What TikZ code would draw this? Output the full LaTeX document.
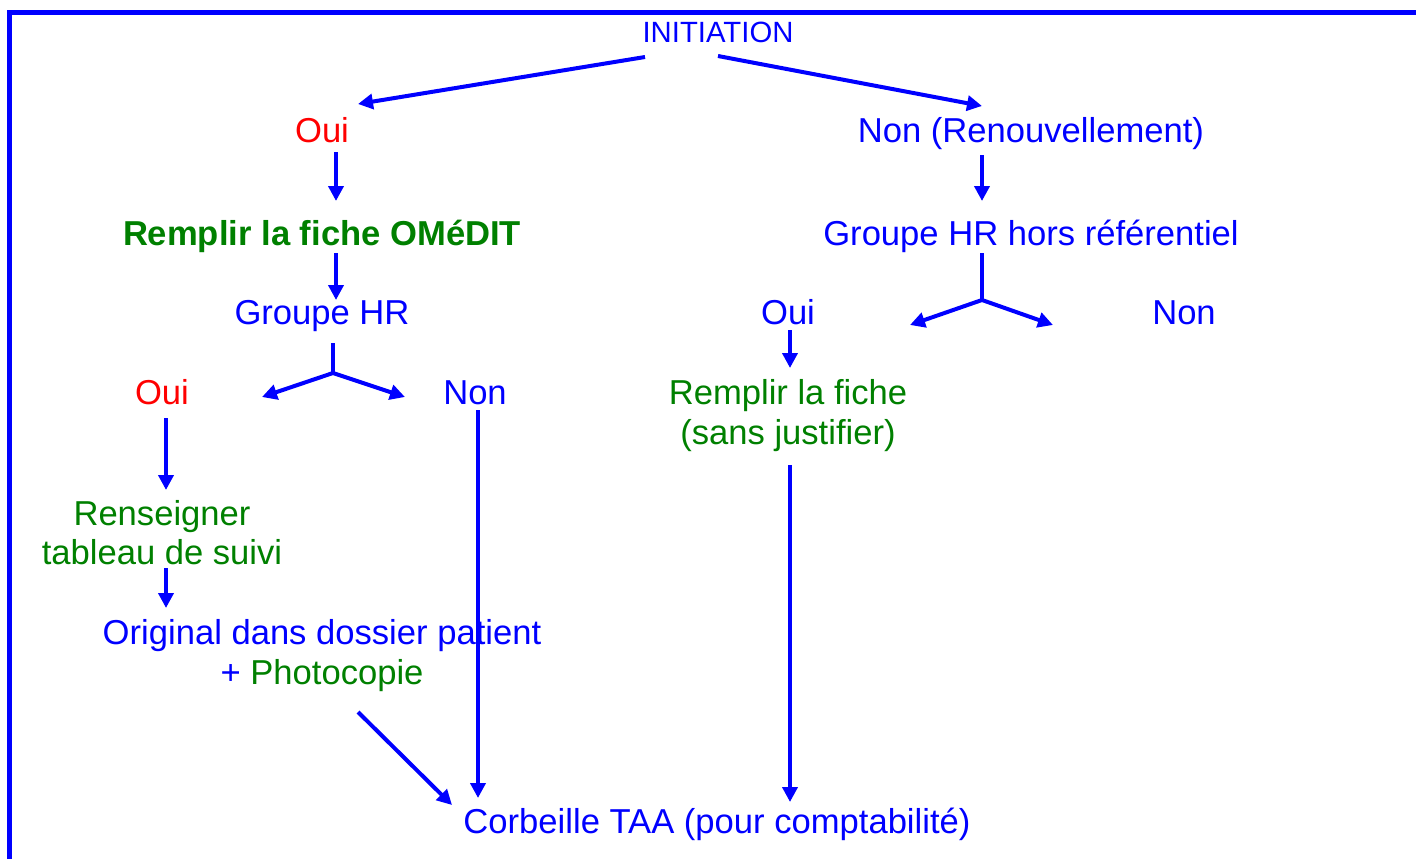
\documentclass[tikz,border=0pt]{standalone}
\usepackage{fontspec}
\setmainfont{Liberation Sans}
\usetikzlibrary{arrows.meta}
\definecolor{pblue}{RGB}{0,0,255}
\definecolor{pred}{RGB}{255,0,0}
\definecolor{pgreen}{RGB}{0,128,0}
\begin{document}
\begin{tikzpicture}[x=1pt,y=-1pt,
  lbl/.style={anchor=base,inner sep=0pt,font=\fontsize{34.6}{40}\selectfont,text=pblue},
  redlbl/.style={lbl,text=pred},
  greenlbl/.style={lbl,text=pgreen},
  arr/.style={draw=pblue,line width=4pt,-{Triangle[length=15pt,width=15pt]}},
  ln/.style={draw=pblue,line width=4pt},
  frame/.style={draw=pblue,line width=5pt}]
\useasboundingbox (0,0) rectangle (1416,859);
\draw[frame] (9.5,859) -- (9.5,12.5) -- (1416,12.5);

\node[lbl,font=\fontsize{29.3}{34}\selectfont] (init) at (718,43) {INITIATION};
\node[redlbl] (oui1) at (322,142) {Oui};
\node[lbl] (nonr) at (1031,142) {Non (Renouvellement)};
\node[greenlbl,font=\fontsize{34.6}{40}\selectfont\bfseries] (fiche) at (322,245) {Remplir la fiche OMéDIT};
\node[lbl] (ghr) at (322,324) {Groupe HR};
\node[lbl] (ghrh) at (1031,245) {Groupe HR hors référentiel};
\node[lbl] (oui3) at (788,324) {Oui};
\node[lbl] (non3) at (1184,324) {Non};
\node[redlbl] (oui2) at (162,404) {Oui};
\node[lbl] (non2) at (475,404) {Non};
\node[greenlbl] (rf1) at (788,404) {Remplir la fiche};
\node[greenlbl] (rf2) at (788,444) {(sans justifier)};
\node[greenlbl] (ren1) at (162,525) {Renseigner};
\node[greenlbl] (ren2) at (162,564) {tableau de suivi};
\node[lbl] (orig1) at (322,644) {Original dans dossier patient};
\node[lbl] (orig2) at (322,684) {+ \textcolor{pgreen}{Photocopie}};
\node[lbl] (corb) at (717,833) {Corbeille TAA (pour comptabilité)};

\draw[arr] ([shift={(-73,14)}]init.base) -- ([shift={(36,-38)}]oui1.base);
\draw[arr] ([shift={(0,13)}]init.base) -- ([shift={(-49,-36)}]nonr.base);
\draw[arr] ([shift={(14,10)}]oui1.base) -- ([shift={(14,-44)}]fiche.base);
\draw[arr] ([shift={(14,8)}]fiche.base) -- ([shift={(14,-24)}]ghr.base);
\draw[ln] ([shift={(11,19)}]ghr.base) -- ([shift={(11,49)}]ghr.base) coordinate (fkl);
\draw[arr] (fkl) -- ([shift={(100,-7)}]oui2.base);
\draw[arr] (fkl) -- ([shift={(-70,-7)}]non2.base);
\draw[arr] ([shift={(4,14)}]oui2.base) -- ([shift={(4,-35)}]ren1.base);
\draw[arr] ([shift={(4,4)}]ren2.base) -- ([shift={(-156,-36)}]orig1.base);
\draw[arr] ([shift={(36,28)}]orig2.base) -- ([shift={(-265,-28)}]corb.base);
\draw[arr] ([shift={(3,6)}]non2.base) -- ([shift={(-239,-35)}]corb.base);
\draw[arr] ([shift={(-49,13)}]nonr.base) -- ([shift={(-49,-44)}]ghrh.base);
\draw[ln] ([shift={(-49,8)}]ghrh.base) -- ([shift={(-49,55)}]ghrh.base) coordinate (fkr);
\draw[arr] (fkr) -- ([shift={(122,1)}]oui3.base);
\draw[arr] (fkr) -- ([shift={(-131,1)}]non3.base);
\draw[arr] ([shift={(2,6)}]oui3.base) -- ([shift={(2,-36)}]rf1.base);
\draw[arr] ([shift={(2,21)}]rf2.base) -- ([shift={(73,-31)}]corb.base);
\end{tikzpicture}
\end{document}
